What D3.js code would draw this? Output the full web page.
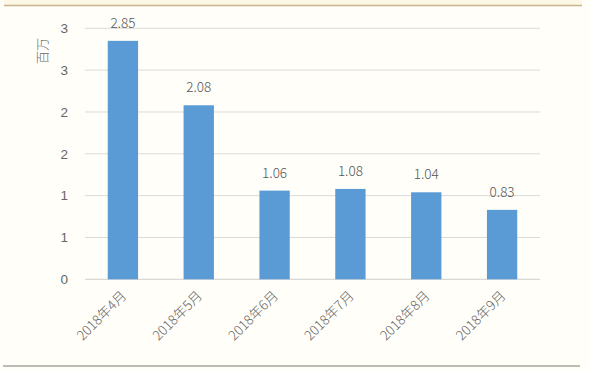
<!DOCTYPE html>
<html>
<head>
<meta charset="utf-8">
<script src="https://cdn.jsdelivr.net/npm/d3@7"></script>
<style>
  body { margin: 0; background: #fffef9; }
  svg { display: block; font-family: "Noto Sans CJK SC", "Open Sans", sans-serif; font-weight: 300; }
</style>
</head>
<body>
<div class="chart"></div>
<script>
// data
const months = ["2018年4月", "2018年5月", "2018年6月", "2018年7月", "2018年8月", "2018年9月"];
const values = [2.85, 2.08, 1.06, 1.08, 1.04, 0.83];
const yTicks = [0, 0.5, 1, 1.5, 2, 2.5, 3];
const unitLabel = "百万";

init();

function init() {
  const width = 589,
    height = 371;
  const margin = { top: 28.3, right: 49, bottom: 91.7, left: 85 };

  const svg = d3
    .select(".chart")
    .append("svg")
    .attr("width", width)
    .attr("height", height);

  svg.append("rect")
    .attr("width", width)
    .attr("height", height)
    .attr("fill", "#fffef9");

  // frame lines top / bottom
  svg.append("rect")
    .attr("x", 4).attr("y", 0).attr("width", 578).attr("height", 5)
    .attr("fill", "#fdf7e6");
  svg.append("line")
    .attr("x1", 4).attr("x2", 582).attr("y1", 5.5).attr("y2", 5.5)
    .attr("stroke", "#c9b58a").attr("stroke-width", 1.5);
  svg.append("line")
    .attr("x1", 3).attr("x2", 580).attr("y1", 366).attr("y2", 366)
    .attr("stroke", "#a8a49a").attr("stroke-width", 1.5);

  const x = d3
    .scaleBand()
    .domain(months)
    .range([margin.left, width - margin.right])
    .paddingInner(0.6)
    .paddingOuter(0.3);

  const y = d3
    .scaleLinear()
    .domain([0, 3])
    .range([height - margin.bottom, margin.top]);

  // gridlines
  svg.append("g")
    .selectAll("line")
    .data(yTicks)
    .join("line")
    .attr("x1", margin.left)
    .attr("x2", width - margin.right)
    .attr("y1", d => y(d))
    .attr("y2", d => y(d))
    .attr("stroke", d => (d === 0 ? "#cfcfcf" : "#dadada"))
    .attr("stroke-width", 1);

  // y axis labels
  const yAxis = svg.append("g")
    .attr("transform", `translate(${margin.left},0)`)
    .call(d3.axisLeft(y).tickValues(yTicks).tickFormat(d3.format(".0f")).tickSize(0).tickPadding(17));
  yAxis.select(".domain").remove();
  yAxis.selectAll("text")
    .attr("fill", "#666")
    .style("font-family", "inherit")
    .style("font-size", "13.5px");

  svg.append("text")
    .attr("transform", `translate(47,51) rotate(-90)`)
    .attr("text-anchor", "middle")
    .attr("fill", "#666")
    .style("font-size", "13px")
    .text(unitLabel);

  // bars
  svg.append("g")
    .selectAll("rect")
    .data(values)
    .join("rect")
    .attr("x", (d, i) => x(months[i]))
    .attr("width", x.bandwidth())
    .attr("y", d => y(d))
    .attr("height", d => y(0) - y(d))
    .attr("fill", "#5b9bd5");

  // value labels
  svg.append("g")
    .selectAll("text")
    .data(values)
    .join("text")
    .attr("x", (d, i) => x(months[i]) + x.bandwidth() / 2)
    .attr("y", d => y(d) - 13)
    .attr("text-anchor", "middle")
    .attr("fill", "#555")
    .style("font-size", "13.5px")
    .text(d => d3.format(".2f")(d));

  // x labels, rotated
  svg.append("g")
    .selectAll("text")
    .data(months)
    .join("text")
    .attr("transform", d => `translate(${x(d) + x.bandwidth() / 2 + 1},${y(0) + 14}) rotate(-45)`)
    .attr("text-anchor", "end")
    .attr("dy", "0.35em")
    .attr("fill", "#666")
    .style("font-size", "13.5px")
    .text(d => d);
}
</script>
</body>
</html>
